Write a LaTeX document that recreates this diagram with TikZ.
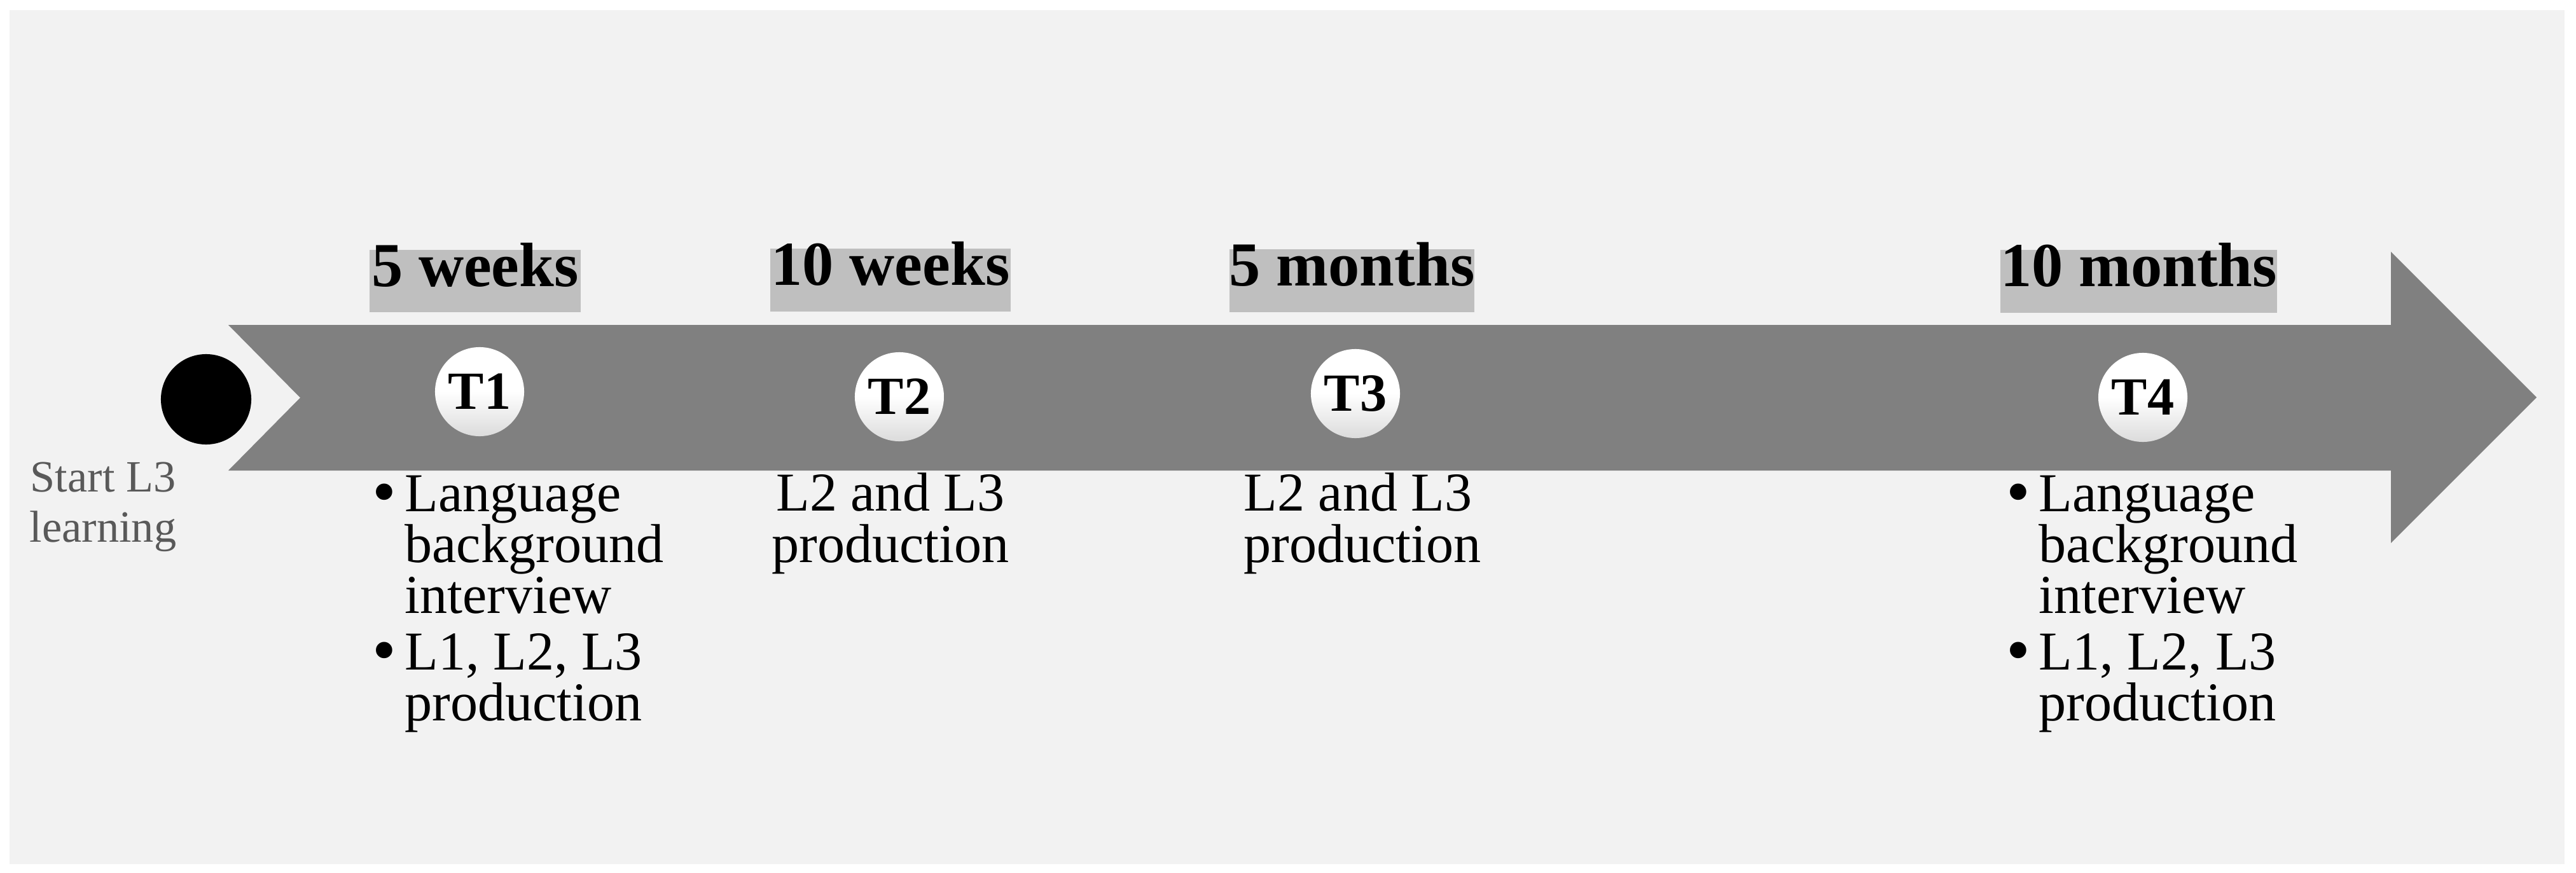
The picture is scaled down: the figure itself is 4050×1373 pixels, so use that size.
\documentclass[tikz,border=0pt]{standalone}
\usepackage{fontspec}
\setmainfont{Liberation Serif}
\definecolor{bgc}{HTML}{F2F2F2}
\definecolor{arrowc}{HTML}{808080}
\definecolor{boxc}{HTML}{BFBFBF}
\definecolor{startc}{HTML}{595959}
\newcommand{\bitem}{\makebox[12.5pt][l]{\hspace*{-2pt}\raisebox{-1.5pt}{\scalebox{1.25}{\textbullet}}}}
\newcommand{\bind}{\hspace*{12.5pt}}
\begin{document}
\begin{tikzpicture}[x=0.01cm,y=-0.01cm,
  tcirc/.style={circle, minimum size=1.4cm, inner sep=0pt, top color=white, bottom color=black!14, middle color=white, font=\fontsize{24}{26}\selectfont\bfseries},
  tlabel/.style={fill=boxc, inner sep=0pt, minimum height=0.98cm, text height=0.68em, text depth=0.2em, font=\fontsize{28}{30}\selectfont\bfseries},
  bodytxt/.style={font=\fontsize{24.5}{22.8}\selectfont, inner sep=0pt, anchor=base west},
  bodyctr/.style={font=\fontsize{24.5}{23.3}\selectfont, inner sep=0pt},
]
\useasboundingbox (0,0) rectangle (4050,1373);
\fill[white] (0,0) rectangle (4050,1373);
\fill[bgc] (15,16) rectangle (4032,1359);
% arrow
\fill[arrowc] (359,511) -- (3759,511) -- (3759,396) -- (3988,625) -- (3759,854) -- (3759,740) -- (359,740) -- (472,625.5) -- cycle;
% start
\node[circle, fill=black, minimum size=1.42cm, inner sep=0pt] (start) at (324,628) {};
\node[font=\fontsize{20}{22.5}\selectfont, text=startc, anchor=base, inner sep=0pt] (startlbl) at (162,773) {\parbox[t]{3cm}{\centering\lineskiplimit=-20pt Start L3\\learning}};
% time labels
\node[tlabel, minimum width=3.32cm] (w5) at (747,442) {5 weeks};
\node[tlabel, minimum width=3.78cm] (w10) at (1400,440.5) {10 weeks};
\node[tlabel, minimum width=3.83cm] (m5) at (2125.5,441.5) {5 months};
\node[tlabel, minimum width=4.29cm] (m10) at (3362.5,442.5) {10 months};
% T circles
\node[tcirc] (t1) at (754,616) {T1};
\node[tcirc] (t2) at (1414,624) {T2};
\node[tcirc] (t3) at (2131,619) {T3};
\node[tcirc] (t4) at (3369,625) {T4};
% bodies
\node[bodytxt] (b1) at (592,804) {\parbox[t]{8cm}{\raggedright\lineskiplimit=-20pt \bitem Language\\\bind background\\\bind interview\\[2.6pt]\bitem L1, L2, L3\\\bind production}};
\node[bodyctr, anchor=base] (b2) at (1400,803) {\parbox[t]{8cm}{\centering\lineskiplimit=-20pt L2 and L3\\production}};
\node[bodyctr, anchor=base west] (b3) at (1955,803) {\parbox[t]{8cm}{\raggedright\lineskiplimit=-20pt L2 and L3\\production}};
\node[bodytxt] (b4) at (3161,804) {\parbox[t]{8cm}{\raggedright\lineskiplimit=-20pt \bitem Language\\\bind background\\\bind interview\\[2.6pt]\bitem L1, L2, L3\\\bind production}};
\end{tikzpicture}
\end{document}
